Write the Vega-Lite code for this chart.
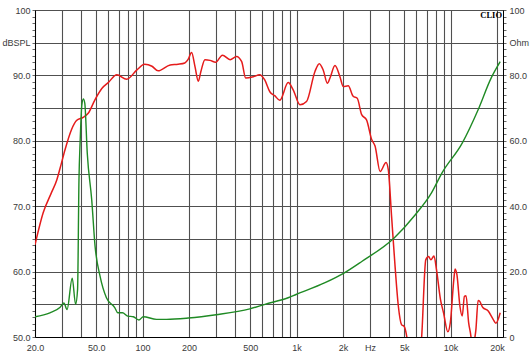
{
  "$schema": "https://vega.github.io/schema/vega-lite/v6.json",
  "width": 468,
  "height": 327,
  "autosize": {"type": "none"},
  "padding": {"left": 35, "top": 10, "right": 27, "bottom": 27},
  "background": "white",
  "config": {
    "view": {"stroke": "#000", "strokeWidth": 1},
    "axis": {"labelFont": "Liberation Sans", "labelFontSize": 9, "labelColor": "#3a3a3a", "domainColor": "#000", "tickColor": "#555", "title": null, "labelOverlap": false, "labelFlush": false}
  },
  "datasets": {
    "spl": [
      {"f": 20, "db": 64.1}, {"f": 22.6, "db": 69.0}, {"f": 25.5, "db": 72.0}, {"f": 27.7, "db": 74.0},
      {"f": 29.1, "db": 75.8}, {"f": 31.3, "db": 78.6}, {"f": 34.5, "db": 81.7}, {"f": 37.2, "db": 83.1},
      {"f": 41.1, "db": 83.6}, {"f": 44.3, "db": 84.2}, {"f": 49.1, "db": 86.3}, {"f": 54.3, "db": 88.0},
      {"f": 59.8, "db": 88.9}, {"f": 68, "db": 90.1}, {"f": 78.8, "db": 89.4}, {"f": 91.5, "db": 90.8},
      {"f": 103, "db": 91.7}, {"f": 115, "db": 91.4}, {"f": 126, "db": 90.7}, {"f": 151, "db": 91.6},
      {"f": 170, "db": 91.7}, {"f": 188, "db": 91.9}, {"f": 197, "db": 92.4}, {"f": 208, "db": 93.5},
      {"f": 219, "db": 91.3}, {"f": 230, "db": 89.1}, {"f": 239, "db": 90.6}, {"f": 254, "db": 92.4},
      {"f": 274, "db": 92.3}, {"f": 298, "db": 92.0}, {"f": 330, "db": 93.1}, {"f": 370, "db": 92.4},
      {"f": 407, "db": 92.9}, {"f": 440, "db": 92.1}, {"f": 467, "db": 89.6}, {"f": 524, "db": 89.8},
      {"f": 575, "db": 90.1}, {"f": 621, "db": 89.3}, {"f": 670, "db": 87.5}, {"f": 721, "db": 86.9},
      {"f": 778, "db": 86.2}, {"f": 882, "db": 88.9}, {"f": 950, "db": 87.8}, {"f": 1052, "db": 85.5},
      {"f": 1160, "db": 86.0}, {"f": 1316, "db": 90.6}, {"f": 1404, "db": 91.8}, {"f": 1490, "db": 90.8},
      {"f": 1584, "db": 88.8}, {"f": 1648, "db": 89.6}, {"f": 1775, "db": 91.5}, {"f": 1912, "db": 89.8},
      {"f": 2010, "db": 88.3}, {"f": 2164, "db": 88.4}, {"f": 2331, "db": 86.8}, {"f": 2476, "db": 86.5},
      {"f": 2646, "db": 84.0}, {"f": 2846, "db": 83.2}, {"f": 3072, "db": 80.2}, {"f": 3232, "db": 79.2},
      {"f": 3488, "db": 75.3}, {"f": 3810, "db": 76.7}, {"f": 3940, "db": 75.6}, {"f": 4140, "db": 68.4},
      {"f": 4360, "db": 60.8}, {"f": 4580, "db": 54.7}, {"f": 4800, "db": 51.9}, {"f": 5000, "db": 51.6},
      {"f": 5190, "db": 50.1}, {"f": 5400, "db": 47}, {"f": 6000, "db": 43}, {"f": 6400, "db": 48},
      {"f": 6500, "db": 50.3}, {"f": 6900, "db": 61.8}, {"f": 7200, "db": 62.3}, {"f": 7450, "db": 61.8},
      {"f": 7800, "db": 62.4}, {"f": 8100, "db": 60.3}, {"f": 8600, "db": 55.7}, {"f": 9000, "db": 53.7},
      {"f": 9600, "db": 50.8}, {"f": 9960, "db": 52.2}, {"f": 10500, "db": 58.8}, {"f": 10700, "db": 60.4},
      {"f": 11000, "db": 59.5}, {"f": 11500, "db": 54.7}, {"f": 11900, "db": 53.2}, {"f": 12300, "db": 56.2},
      {"f": 12600, "db": 56.3}, {"f": 13100, "db": 52.2}, {"f": 13600, "db": 49.8}, {"f": 13900, "db": 47},
      {"f": 14300, "db": 49.5}, {"f": 14600, "db": 51.1}, {"f": 15100, "db": 55.6}, {"f": 15400, "db": 55.5},
      {"f": 16200, "db": 54.5}, {"f": 17500, "db": 54.0}, {"f": 18900, "db": 52.7}, {"f": 19700, "db": 52.1},
      {"f": 21000, "db": 53.7}
    ],
    "imp": [
      {"f": 20, "ohm": 6.2}, {"f": 25, "ohm": 7.4}, {"f": 29, "ohm": 9.0}, {"f": 30.8, "ohm": 10.4},
      {"f": 32.3, "ohm": 8.4}, {"f": 34.9, "ohm": 18.0}, {"f": 36.7, "ohm": 10.0}, {"f": 37.8, "ohm": 14.5},
      {"f": 38.6, "ohm": 48}, {"f": 39.3, "ohm": 60}, {"f": 40.3, "ohm": 71}, {"f": 41.2, "ohm": 72.8},
      {"f": 42.1, "ohm": 71.5}, {"f": 43.7, "ohm": 56.2}, {"f": 46.7, "ohm": 42}, {"f": 49.1, "ohm": 27.8},
      {"f": 52.9, "ohm": 18.6}, {"f": 58.2, "ohm": 12.0}, {"f": 65.9, "ohm": 9.0}, {"f": 69, "ohm": 7.4},
      {"f": 74, "ohm": 7.4}, {"f": 80, "ohm": 6.4}, {"f": 87, "ohm": 6.2}, {"f": 94.5, "ohm": 5.2},
      {"f": 101, "ohm": 6.2}, {"f": 123, "ohm": 5.4}, {"f": 143, "ohm": 5.4}, {"f": 198, "ohm": 5.8},
      {"f": 300, "ohm": 6.8}, {"f": 497, "ohm": 8.6}, {"f": 623, "ohm": 10.0}, {"f": 881, "ohm": 12.0},
      {"f": 992, "ohm": 13.0}, {"f": 1530, "ohm": 16.6}, {"f": 1990, "ohm": 19.3}, {"f": 2650, "ohm": 23.1},
      {"f": 4300, "ohm": 30.3}, {"f": 5900, "ohm": 37.4}, {"f": 7500, "ohm": 44.0}, {"f": 8800, "ohm": 50.2},
      {"f": 11900, "ohm": 59.3}, {"f": 15100, "ohm": 69.5}, {"f": 18300, "ohm": 79.1}, {"f": 21000, "ohm": 84.2}
    ],
    "brand": [{"label": "CLIO", "f": 21900, "db": 100}]
  },
  "layer": [
    {
      "layer": [
        {
          "data": {"name": "spl"},
          "mark": {"type": "line", "color": "#e51b1b", "strokeWidth": 1.5, "interpolate": "monotone", "clip": true},
          "encoding": {
            "x": {
              "field": "f", "type": "quantitative",
              "scale": {"type": "log", "domain": [20, 21900], "nice": false},
              "axis": {
                "values": [20, 30, 40, 50, 60, 70, 80, 90, 100, 200, 300, 400, 500, 600, 700, 800, 900, 1000, 2000, 3000, 4000, 5000, 6000, 7000, 8000, 9000, 10000, 20000],
                "labelExpr": "datum.value==20?'20.0':datum.value==50?'50.0':datum.value==100?'100':datum.value==200?'200':datum.value==500?'500':datum.value==1000?'1k':datum.value==2000?'2k':datum.value==3000?'Hz':datum.value==5000?'5k':datum.value==10000?'10k':datum.value==20000?'20k':''",
                "grid": true, "gridColor": "#505050", "gridWidth": 1.1, "gridOpacity": 1,
                "tickSize": 0, "labelPadding": 6, "domain": true
              }
            },
            "y": {
              "field": "db", "type": "quantitative",
              "scale": {"domain": [50, 100], "nice": false, "zero": false},
              "axis": {
                "orient": "left",
                "values": [50,51,52,53,54,55,56,57,58,59,60,61,62,63,64,65,66,67,68,69,70,71,72,73,74,75,76,77,78,79,80,81,82,83,84,85,86,87,88,89,90,91,92,93,94,95,96,97,98,99,100],
                "labelExpr": "datum.value==100?'100':datum.value==95?'dBSPL':datum.value==90?'90.0':datum.value==80?'80.0':datum.value==70?'70.0':datum.value==60?'60.0':datum.value==50?'50.0':''",
                "grid": true, "gridColor": "#505050", "gridWidth": 1.1,
                "gridOpacity": {"condition": {"test": "datum.value==55 || datum.value==60 || datum.value==65 || datum.value==70 || datum.value==75 || datum.value==80 || datum.value==85 || datum.value==90 || datum.value==95 || datum.value==100", "value": 1}, "value": 0},
                "tickSize": 3, "tickColor": "#666", "labelPadding": 2
              }
            }
          }
        },
        {
          "data": {"name": "brand"},
          "mark": {"type": "text", "align": "right", "baseline": "top", "dx": -1, "dy": 1, "font": "Liberation Serif", "fontWeight": "bold", "fontSize": 8.5, "color": "#000"},
          "encoding": {
            "x": {
              "field": "f", "type": "quantitative",
              "scale": {"type": "log", "domain": [20, 21900], "nice": false},
              "axis": {
                "values": [20, 30, 40, 50, 60, 70, 80, 90, 100, 200, 300, 400, 500, 600, 700, 800, 900, 1000, 2000, 3000, 4000, 5000, 6000, 7000, 8000, 9000, 10000, 20000],
                "labelExpr": "datum.value==20?'20.0':datum.value==50?'50.0':datum.value==100?'100':datum.value==200?'200':datum.value==500?'500':datum.value==1000?'1k':datum.value==2000?'2k':datum.value==3000?'Hz':datum.value==5000?'5k':datum.value==10000?'10k':datum.value==20000?'20k':''",
                "grid": true, "gridColor": "#505050", "gridWidth": 1.1, "gridOpacity": 1,
                "tickSize": 0, "labelPadding": 6, "domain": true
              }
            },
            "y": {
              "field": "db", "type": "quantitative",
              "scale": {"domain": [50, 100], "nice": false, "zero": false},
              "axis": {
                "orient": "left",
                "values": [50,51,52,53,54,55,56,57,58,59,60,61,62,63,64,65,66,67,68,69,70,71,72,73,74,75,76,77,78,79,80,81,82,83,84,85,86,87,88,89,90,91,92,93,94,95,96,97,98,99,100],
                "labelExpr": "datum.value==100?'100':datum.value==95?'dBSPL':datum.value==90?'90.0':datum.value==80?'80.0':datum.value==70?'70.0':datum.value==60?'60.0':datum.value==50?'50.0':''",
                "grid": true, "gridColor": "#505050", "gridWidth": 1.1,
                "gridOpacity": {"condition": {"test": "datum.value==55 || datum.value==60 || datum.value==65 || datum.value==70 || datum.value==75 || datum.value==80 || datum.value==85 || datum.value==90 || datum.value==95 || datum.value==100", "value": 1}, "value": 0},
                "tickSize": 3, "tickColor": "#666", "labelPadding": 2
              }
            },
            "text": {"field": "label"}
          }
        }
      ]
    },
    {
      "data": {"name": "imp"},
      "mark": {"type": "line", "color": "#1f8a24", "strokeWidth": 1.4, "interpolate": "monotone", "clip": true},
      "encoding": {
        "x": {"field": "f", "type": "quantitative"},
        "y": {
          "field": "ohm", "type": "quantitative",
          "scale": {"domain": [0, 100], "nice": false},
          "axis": {
            "orient": "right",
            "values": [0,2,4,6,8,10,12,14,16,18,20,22,24,26,28,30,32,34,36,38,40,42,44,46,48,50,52,54,56,58,60,62,64,66,68,70,72,74,76,78,80,82,84,86,88,90,92,94,96,98,100],
            "labelExpr": "datum.value==0?'0':datum.value==100?'100':datum.value==90?'Ohm':datum.value==80?'80.0':datum.value==60?'60.0':datum.value==40?'40.0':datum.value==20?'20.0':''",
            "grid": false, "tickSize": 3, "tickColor": "#666", "labelPadding": 3
          }
        }
      }
    }
  ],
  "resolve": {"scale": {"y": "independent"}, "axis": {"y": "independent"}}
}
